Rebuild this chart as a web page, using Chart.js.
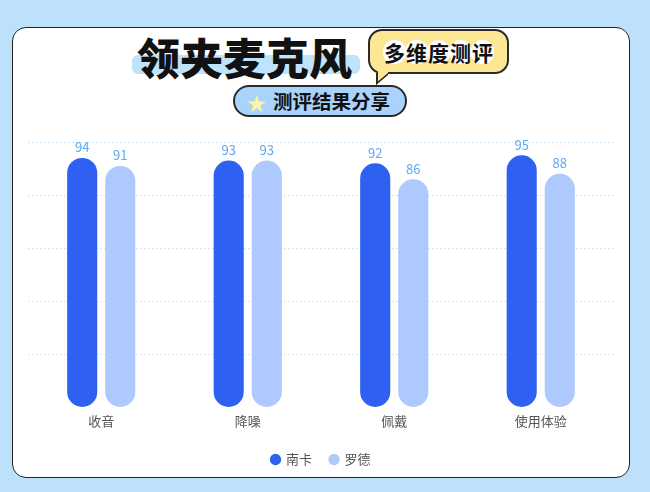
<!DOCTYPE html>
<html>
<head>
<meta charset="utf-8">
<script src="https://cdn.jsdelivr.net/npm/chart.js@4.4.0/dist/chart.umd.min.js"></script>
<style>
  html, body { margin: 0; padding: 0; }
  body {
    width: 650px; height: 492px; position: relative; overflow: hidden;
    background: #bde0fb;
    font-family: "Noto Sans CJK SC", "Noto Sans", sans-serif;
  }
  .card {
    position: absolute; left: 12px; top: 27px; width: 616px; height: 449px;
    background: #fff; border: 1.5px solid #222; border-radius: 14px;
  }
  .brush {
    position: absolute; left: 132px; top: 55px; width: 228px; height: 19px;
    background: #bfe3fa; border-radius: 6px;
  }
  .title {
    position: absolute; left: 137px; top: 34px; font-size: 43px; line-height: 44px;
    font-weight: 900; color: #111; white-space: nowrap;
  }
  .bubble {
    position: absolute; left: 368px; top: 29px; width: 137px; height: 41px;
    background: #fde795; border: 2px solid #2a2a2a; border-radius: 14px;
    display: flex; align-items: center; justify-content: center;
  }
  .bubble::after {
    content: ""; position: absolute; left: 6px; bottom: -8px;
    width: 10px; height: 10px; background: #fde795;
    border-left: 2px solid #2a2a2a; border-bottom: 2px solid #2a2a2a;
    transform: skewY(-40deg);
  }
  .bubble span {
    display: inline-block; width: 23px; height: 24px; line-height: 24px;
    background: #fff; border-radius: 12px; text-align: center;
    font-size: 21px; font-weight: 700; color: #111; margin: 0 -0.5px;
  }
  .pill {
    position: absolute; left: 233px; top: 85px; width: 170px; height: 28px;
    background: #a9d3fb; border: 2px solid #2a2a2a; border-radius: 16px;
  }
  .pill .star {
    position: absolute; left: 12px; top: 2px; font-size: 19px; color: #fff4a3;
  }
  .pill .txt {
    position: absolute; left: 38px; top: 2px; font-size: 19.5px; line-height: 24px;
    font-weight: 700; color: #111; white-space: nowrap;
  }
  #wrap { position: absolute; left: 0; top: 0; width: 650px; height: 492px; }
</style>
</head>
<body>
<div class="card"></div>
<div class="brush"></div>
<div class="title">领夹麦克风</div>
<div class="bubble"><span>多</span><span>维</span><span>度</span><span>测</span><span>评</span></div>
<div class="pill"><span class="star">★</span><span class="txt">测评结果分享</span></div>
<div id="wrap"><canvas id="chart"></canvas></div>
<script>
const categories = ["收音", "降噪", "佩戴", "使用体验"];
const seriesNames = ["南卡", "罗德"];
const nankaValues = [94, 93, 92, 95];
const rodeValues = [91, 93, 86, 88];

const barColors = ["#2e60f1", "#adc9fd"];

// draws the value above each bar
const valueLabels = {
    id: "valueLabels",
    afterDatasetsDraw(chart) {
        const ctx = chart.ctx;
        ctx.save();
        ctx.font = "13px 'Noto Sans CJK SC'";
        ctx.fillStyle = "#5eaaf3";
        ctx.textAlign = "center";
        ctx.textBaseline = "bottom";
        chart.data.datasets.forEach((ds, i) => {
            const meta = chart.getDatasetMeta(i);
            meta.data.forEach((bar, j) => {
                ctx.fillText(ds.data[j], bar.x, bar.y - 4);
            });
        });
        ctx.restore();
    }
};

new Chart(document.getElementById("chart"), {
    type: "bar",
    data: {
        labels: categories,
        datasets: [
            { label: seriesNames[0], data: nankaValues, backgroundColor: barColors[0] },
            { label: seriesNames[1], data: rodeValues, backgroundColor: barColors[1] },
        ],
    },
    options: {
        responsive: true,
        maintainAspectRatio: false,
        animation: false,
        categoryPercentage: 0.52,
        barPercentage: 0.79,
        borderRadius: 15,
        borderSkipped: false,
        layout: { padding: { left: 28, right: 36, top: 142, bottom: 16 } },
        scales: {
            x: {
                grid: { display: false, drawTicks: false },
                border: { display: false },
                ticks: { color: "#555", font: { size: 13, family: "Noto Sans CJK SC" }, padding: 6 },
            },
            y: {
                min: 0,
                max: 100,
                ticks: { display: false, stepSize: 20 },
                grid: {
                    drawTicks: false,
                    color: ctx => ctx.tick.value === 0 ? "rgba(0,0,0,0)" : "#cfe5fa",
                },
                border: { display: false, dash: [2, 2] },
            },
        },
        plugins: {
            legend: {
                position: "bottom",
                labels: {
                    usePointStyle: true,
                    pointStyle: "circle",
                    boxWidth: 8,
                    boxHeight: 8,
                    padding: 18,
                    color: "#555",
                    font: { size: 13, family: "Noto Sans CJK SC" },
                },
            },
            tooltip: { enabled: false },
        },
    },
    plugins: [valueLabels],
});
</script>
</body>
</html>
